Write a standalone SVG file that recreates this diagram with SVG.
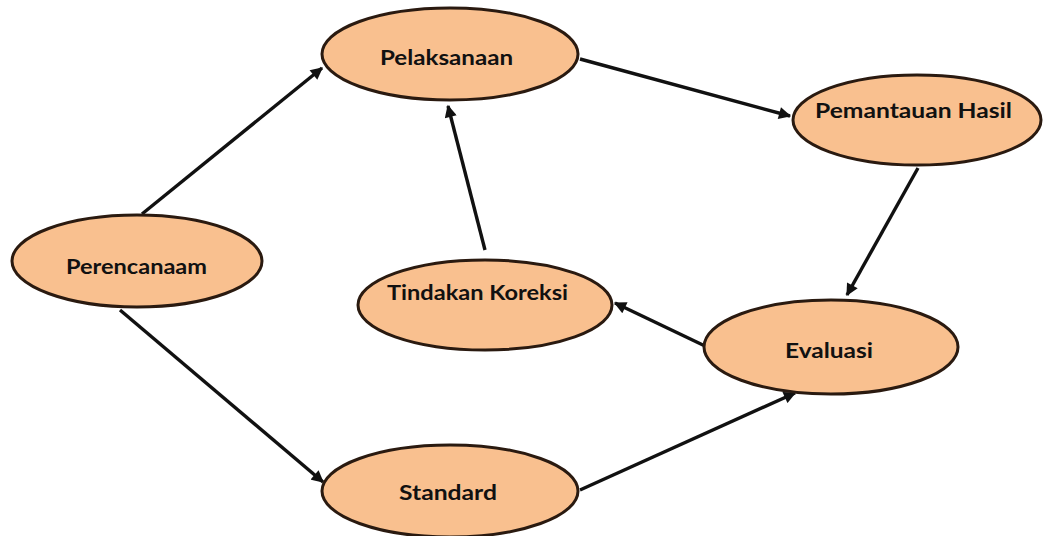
<svg xmlns="http://www.w3.org/2000/svg" width="1048" height="536" viewBox="0 0 1048 536">
<defs>
<marker id="ah" viewBox="0 0 10 10" refX="9" refY="5" markerWidth="4" markerHeight="3.6" orient="auto" markerUnits="strokeWidth">
<path d="M0,0 L10,5 L0,10 z" fill="#111"/>
</marker>
<style>
.n ellipse{fill:#F9C08F;stroke:#2a1a10;stroke-width:3}
.n text{font-family:Lato,"Liberation Sans",sans-serif;font-weight:bold;font-size:21px;fill:#111}
.c line{stroke:#111;stroke-width:3.4;marker-end:url(#ah)}
</style>
</defs>
<rect width="1048" height="536" fill="#fff"/>
<g class="c" id="connectors">
<line x1="142" y1="214" x2="322" y2="68"/>
<line x1="120" y1="310" x2="323" y2="482"/>
<line x1="580" y1="59" x2="790" y2="116"/>
<line x1="918" y1="168" x2="847" y2="295"/>
<line x1="705" y1="346" x2="615" y2="303"/>
<line x1="485" y1="250" x2="448" y2="106"/>
<line x1="580" y1="490" x2="795" y2="393"/>
</g>
<g class="n" id="perencanaan"><ellipse cx="137" cy="261" rx="125" ry="46"/><text x="66" y="274" textLength="141" lengthAdjust="spacingAndGlyphs">Perencanaam</text></g>
<g class="n" id="pelaksanaan"><ellipse cx="450" cy="54" rx="128" ry="46"/><text x="380" y="65" textLength="133" lengthAdjust="spacingAndGlyphs">Pelaksanaan</text></g>
<g class="n" id="pemantauan"><ellipse cx="917" cy="120" rx="124" ry="45"/><text x="815" y="118" textLength="197" lengthAdjust="spacingAndGlyphs">Pemantauan Hasil</text></g>
<g class="n" id="tindakan"><ellipse cx="485" cy="305" rx="127" ry="45"/><text x="387" y="300" textLength="181" lengthAdjust="spacingAndGlyphs">Tindakan Koreksi</text></g>
<g class="n" id="evaluasi"><ellipse cx="831" cy="347" rx="127" ry="47"/><text x="785" y="358" textLength="88" lengthAdjust="spacingAndGlyphs">Evaluasi</text></g>
<g class="n" id="standard"><ellipse cx="450" cy="491" rx="128" ry="46"/><text x="399" y="500" textLength="98" lengthAdjust="spacingAndGlyphs">Standard</text></g>
</svg>
